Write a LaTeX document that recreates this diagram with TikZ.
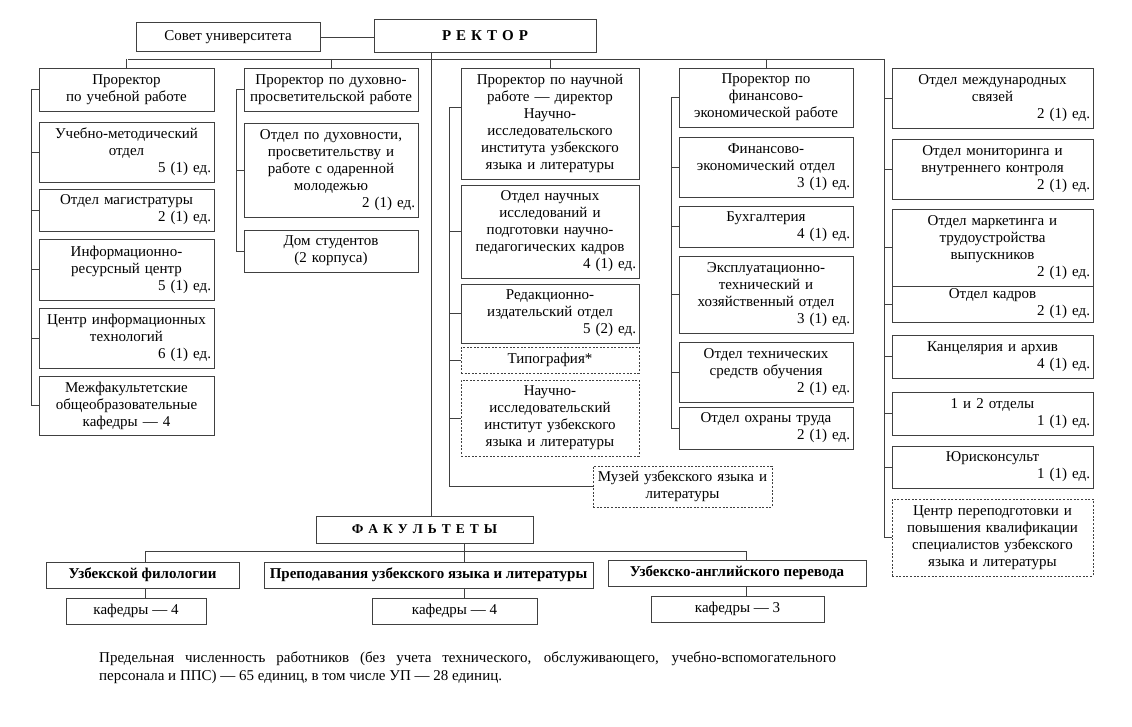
\documentclass[tikz,border=0pt]{standalone}
\usepackage{fontspec}
\setmainfont{Liberation Serif}
\usetikzlibrary{positioning}

\newcommand{\ed}[1]{\\\hspace*{0pt plus 1filll}#1~ед.}
\newcommand{\lsp}{\hspace{5pt}}

\begin{document}
\begin{tikzpicture}[
    x=1pt, y=-1pt,
    every node/.style={font=\fontsize{15}{17}\selectfont},
    unit/.style={rectangle, draw=black!75, line width=0.8pt, align=center, inner xsep=3pt, inner ysep=1pt},
    plan/.style={unit, dash pattern=on 2pt off 1.6pt},
    head/.style={font=\fontsize{15}{17}\selectfont\bfseries},
    col1/.style={text width=169pt},
    col2/.style={text width=168pt},
    col3/.style={text width=172pt},
    col4/.style={text width=168pt},
    col5/.style={text width=195pt},
    link/.style={draw=black!75, line width=0.8pt}
]
\useasboundingbox (0,0) rectangle (1132,727);

% Rector
\node[unit, minimum width=184pt, minimum height=29pt] (sovet) at (228,37) {Совет университета};
\node[unit, head, minimum width=222pt, minimum height=33pt] (rector) at (485,35.5) {Р\lsp Е\lsp К\lsp Т\lsp О\lsp Р};

% Vice-rector for academic affairs
\node[unit, col1, minimum height=43pt] (pr1) at (126.5,89.5) {Проректор\\по учебной работе};
\node[unit, col1, minimum height=60pt] (umo) at (126.5,152) {Учебно-методический\\отдел\ed{5 (1)}};
\node[unit, col1, minimum height=42pt] (mag) at (126.5,210) {Отдел магистратуры\ed{2 (1)}};
\node[unit, col1, minimum height=61pt] (irc) at (126.5,269.5) {Информационно-\\ресурсный центр\ed{5 (1)}};
\node[unit, col1, minimum height=60pt] (cit) at (126.5,338) {Центр информационных\\технологий\ed{6 (1)}};
\node[unit, col1, minimum height=59pt] (kaf) at (126.5,405.5) {Межфакультетские\\общеобразовательные\\кафедры — 4};

% Vice-rector for spiritual and educational work
\node[unit, col2, minimum height=43pt] (pr2) at (331,89.5) {Проректор по духовно-\\просветительской работе};
\node[unit, col2, minimum height=94pt] (dux) at (331,170) {Отдел по духовности,\\просветительству и\\работе с одаренной\\молодежью\ed{2 (1)}};
\node[unit, col2, minimum height=42pt] (dom) at (331,251) {Дом студентов\\(2 корпуса)};

% Vice-rector for research
\node[unit, col3, minimum height=111pt] (pr3) at (550,123.5) {Проректор по научной\\работе — директор\\Научно-\\исследовательского\\института узбекского\\языка и литературы};
\node[unit, col3, minimum height=93pt] (ons) at (550,231.5) {Отдел научных\\исследований и\\подготовки научно-\\педагогических кадров\ed{4 (1)}};
\node[unit, col3, minimum height=59pt] (red) at (550,313.5) {Редакционно-\\издательский отдел\ed{5 (2)}};
\node[plan, col3, minimum height=26pt] (tip) at (550,360) {Типография*};
\node[plan, col3, minimum height=76pt] (nii) at (550,418) {Научно-\\исследовательский\\институт узбекского\\языка и литературы};
\node[plan, text width=173pt, minimum height=41pt] (muz) at (682.5,486.5) {Музей узбекского языка и\\литературы};

% Vice-rector for finance
\node[unit, col4, minimum height=59pt] (pr4) at (766,97.5) {Проректор по\\финансово-\\экономической работе};
\node[unit, col4, minimum height=60pt] (fin) at (766,167) {Финансово-\\экономический отдел\ed{3 (1)}};
\node[unit, col4, minimum height=41pt] (bux) at (766,226.5) {Бухгалтерия\ed{4 (1)}};
\node[unit, col4, minimum height=77pt] (eks) at (766,294.5) {Эксплуатационно-\\технический и\\хозяйственный отдел\ed{3 (1)}};
\node[unit, col4, minimum height=60pt] (tso) at (766,372) {Отдел технических\\средств обучения\ed{2 (1)}};
\node[unit, col4, minimum height=42pt] (oxr) at (766,428) {Отдел охраны труда\ed{2 (1)}};

% Units under the rector
\node[unit, col5, minimum height=60pt] (mezh) at (992.5,98) {Отдел международных\\связей\ed{2 (1)}};
\node[unit, col5, minimum height=60pt] (mon) at (992.5,169) {Отдел мониторинга и\\внутреннего контроля\ed{2 (1)}};
\node[unit, col5, minimum height=77pt] (mark) at (992.5,247.5) {Отдел маркетинга и\\трудоустройства\\выпускников\ed{2 (1)}};
\node[unit, col5, minimum height=36pt, inner ysep=0pt] (kadr) at (992.5,304) {Отдел кадров\ed{2 (1)}};
\node[unit, col5, minimum height=43pt] (kanc) at (992.5,356.5) {Канцелярия и архив\ed{4 (1)}};
\node[unit, col5, minimum height=43pt] (otd) at (992.5,413.5) {1 и 2 отделы\ed{1 (1)}};
\node[unit, col5, minimum height=42pt] (yur) at (992.5,467) {Юрисконсульт\ed{1 (1)}};
\node[plan, col5, minimum height=77pt] (cpk) at (992.5,537.5) {Центр переподготовки и\\повышения квалификации\\специалистов узбекского\\языка и литературы};

% Faculties
\node[unit, head, minimum width=217pt, minimum height=27pt, font=\fontsize{13.5}{17}\selectfont\bfseries] (fac) at (424.5,529.5) {Ф\lsp А\lsp К\lsp У\lsp Л\lsp Ь\lsp Т\lsp Е\lsp Т\lsp Ы};
\node[unit, head, minimum width=193pt, minimum height=26pt] (f1) at (142.5,575) {Узбекской филологии};
\node[unit, head, minimum width=329pt, minimum height=26pt] (f2) at (428.5,575) {Преподавания узбекского языка и литературы};
\node[unit, head, minimum width=258pt, minimum height=26pt] (f3) at (737,573) {Узбекско-английского перевода};
\node[unit, minimum width=140pt, minimum height=26pt] (k1) at (136,611) {кафедры — 4};
\node[unit, minimum width=165pt, minimum height=26pt] (k2) at (454.5,611) {кафедры — 4};
\node[unit, minimum width=173pt, minimum height=26pt] (k3) at (737.5,609) {кафедры — 3};

% Note
\node[anchor=north west, text width=737pt, align=justify, inner sep=0pt, font=\fontsize{15}{18}\selectfont] (note) at (99,652) {Предельная численность работников (без учета технического, обслуживающего, учебно-вспомогательного\linebreak персонала и ППС) — 65 единиц, в том числе УП — 28 единиц.};

% Links
\coordinate (busL) at (128,59);
\coordinate (busR) at (884,59);
\coordinate (trunk) at (431,0);
\coordinate (sp1) at (31,0);
\coordinate (sp2) at (236,0);
\coordinate (sp3) at (449,0);
\coordinate (sp4) at (671,0);
\draw[link] (sovet.east) -- (sovet.east -| rector.west);
\draw[link] (busL) -- (busR);
\draw[link] (rector.south -| trunk) -- (fac.north -| trunk);
\foreach \n in {pr1,pr2,pr3,pr4}
    \draw[link] (\n.north |- busL) -- (\n.north);

\draw[link] (sp1 |- pr1.west) -- (sp1 |- kaf.west);
\foreach \n in {pr1,umo,mag,irc,cit,kaf}
    \draw[link] (sp1 |- \n.west) -- (\n.west);

\draw[link] (sp2 |- pr2.west) -- (sp2 |- dom.west);
\foreach \n in {pr2,dux,dom}
    \draw[link] (sp2 |- \n.west) -- (\n.west);

\draw[link] (sp3 |- pr3.170) -- (sp3 |- muz.west) -- (muz.west);
\draw[link] (sp3 |- pr3.170) -- (pr3.170);
\foreach \n in {ons,red,tip,nii}
    \draw[link] (sp3 |- \n.west) -- (\n.west);

\draw[link] (sp4 |- pr4.west) -- (sp4 |- oxr.west);
\foreach \n in {pr4,fin,bux,eks,tso,oxr}
    \draw[link] (sp4 |- \n.west) -- (\n.west);

\draw[link] (busR) -- (busR |- cpk.west) -- (cpk.west);
\foreach \n in {mezh,mon,mark,kadr,kanc,otd,yur}
    \draw[link] (busR |- \n.west) -- (\n.west);

\coordinate (fbusL) at (145,551);
\coordinate (fbusR) at (746,551);
\coordinate (fmid) at (464,0);
\draw[link] (fbusL) -- (fbusR);
\draw[link] (fac.south -| fmid) -- (f2.north -| fmid);
\draw[link] (f2.south -| fmid) -- (k2.north -| fmid);
\draw[link] (fbusL) -- (f1.north -| fbusL);
\draw[link] (f1.south -| fbusL) -- (k1.north -| fbusL);
\draw[link] (fbusR) -- (f3.north -| fbusR);
\draw[link] (f3.south -| fbusR) -- (k3.north -| fbusR);

\end{tikzpicture}
\end{document}
